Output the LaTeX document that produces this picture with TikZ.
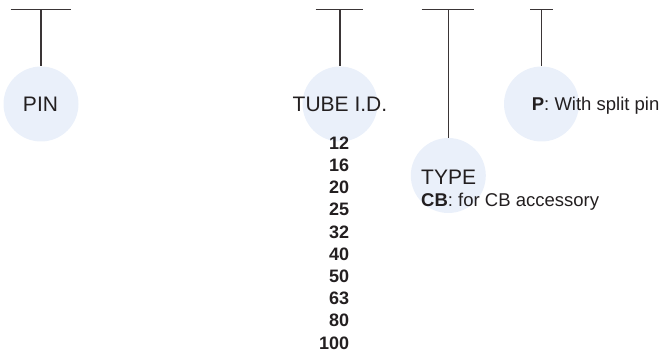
\documentclass[tikz,border=0pt]{standalone}
\usepackage{fontspec}
\setmainfont{Liberation Sans}
\usetikzlibrary{positioning}
\definecolor{bubble}{HTML}{EAF0FA}
\definecolor{stem}{HTML}{3A3536}
\definecolor{ink}{HTML}{231F20}
\tikzset{bub/.style={circle, fill=bubble, minimum size=75pt, inner sep=0pt},
  big/.style={text=ink, font=\fontsize{21}{25}\selectfont, inner sep=0pt},
  small/.style={text=ink, font=\fontsize{18.5}{22}\selectfont, inner sep=0pt},
  stick/.style={draw=stem, line width=1.2pt}}

\begin{document}
\begin{tikzpicture}[x=1pt,y=-1pt]
\useasboundingbox (0,0) rectangle (661,352);
% bubbles
\node[bub] (pin) at (41,104) {};
\node[bub] (tube) at (340,104) {};
\node[bub] (type) at (448.3,175.5) {};
\node[bub] (split) at (541.5,104) {};
% bars on top
\coordinate (pinL) at (10.7,9.3);  \coordinate (pinR) at (70.7,9.3);  \coordinate (pinT) at (41,9.3);
\coordinate (tubeL) at (315.7,9.3); \coordinate (tubeR) at (363.3,9.3); \coordinate (tubeT) at (340,9.3);
\coordinate (typeL) at (421.7,9.3); \coordinate (typeR) at (474.3,9.3); \coordinate (typeT) at (448.3,9.3);
\coordinate (splitL) at (530,9.3);  \coordinate (splitR) at (552.7,9.3); \coordinate (splitT) at (541.5,9.3);
\draw[stick] (pinL) -- (pinR);
\draw[stick] (pinT) -- (pin.north);
\draw[stick] (tubeL) -- (tubeR);
\draw[stick] (tubeT) -- (tube.north);
\draw[stick] (typeL) -- (typeR);
\draw[stick] (typeT) -- (type.north);
\draw[stick] (splitL) -- (splitR);
\draw[stick] (splitT) -- (split.north);
% labels
\node[big, anchor=base] (pintxt) at (40.5,111.5) {PIN};
\node[big, anchor=base] (tubetxt) at (340,111.5) {TUBE I.D.};
\node[big, anchor=base west] (typetxt) at (421,185) {TYPE};
\node[small, anchor=base west] (cbtxt) at (421,206.7) {\textbf{CB}: for CB accessory};
\node[small, anchor=base west] (ptxt) at (531.7,111) {\textbf{P}: With split pin};
% tube sizes
\foreach \v [count=\i from 0] in {12,16,20,25,32,40,50,63,80,100}
  \node[small, font=\fontsize{18}{22}\selectfont\bfseries, anchor=base east] (id\v) at (349.3,149.3+22.2*\i) {\v};
\end{tikzpicture}
\end{document}
